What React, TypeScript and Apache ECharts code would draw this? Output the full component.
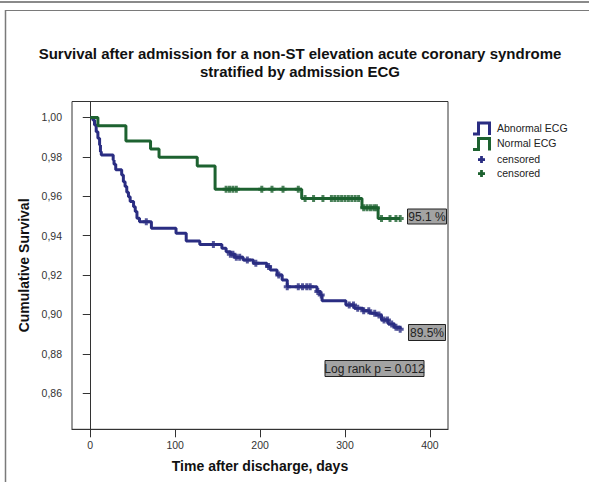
import React, { useEffect, useRef } from "react";
import * as echarts from "echarts";

// ---- data ----
const xTickValues = [0, 100, 200, 300, 400];
const yTickValues = [0.86, 0.88, 0.9, 0.92, 0.94, 0.96, 0.98, 1.0];

// Abnormal ECG: [day, cumulative survival after the event]
const abnormalEvents: [number, number][] = [
  [0, 1.0], [3, 0.9987], [5, 0.9962], [7, 0.9928], [9, 0.9894], [11, 0.986],
  [12, 0.9826], [13, 0.981], [27, 0.9784], [28, 0.9762], [30, 0.9734],
  [37, 0.9708], [39, 0.9674], [41, 0.9649], [43, 0.962], [45, 0.9598],
  [47, 0.9573], [51, 0.9547], [53, 0.9522], [55, 0.9488], [58, 0.9471],
  [72, 0.9437], [101, 0.9412], [113, 0.9373], [129, 0.9355], [155, 0.9336],
  [160, 0.9318], [165, 0.9305], [170, 0.929], [180, 0.9277], [192, 0.926],
  [208, 0.9243], [212, 0.9226], [220, 0.92], [226, 0.9175], [232, 0.914],
  [267, 0.9116], [271, 0.9099], [273, 0.907], [301, 0.9048], [311, 0.9031],
  [321, 0.9019], [329, 0.9006], [337, 0.8997], [343, 0.8972], [351, 0.8952],
  [358, 0.8935], [365, 0.8925],
];
const abnormalCensored = [
  66, 145, 165, 168, 172, 176, 185, 195, 210, 222, 232, 245, 250, 255, 259,
  268, 272, 305, 310, 315, 322, 328, 335, 340, 346, 350, 355, 360, 365,
];

// Normal ECG
const normalEvents: [number, number][] = [
  [0, 1.0], [9, 0.9958], [42, 0.9881], [71, 0.984], [81, 0.9798],
  [126, 0.9754], [147, 0.9635], [249, 0.9588], [320, 0.9542], [339, 0.9487],
  [365, 0.9487],
];
const normalCensored = [
  160, 164, 168, 172, 202, 214, 227, 245, 253, 263, 274, 284, 288, 292, 296,
  300, 304, 308, 312, 316, 322, 326, 330, 334, 337, 343, 353, 360, 365,
];

const seriesNames = ["Abnormal ECG", "Normal ECG"];
const finalLabels = ["89.5%", "95.1 %"];
const logRankText = "Log rank p = 0.012";
const titleLines = [
  "Survival after admission for a non-ST elevation acute coronary syndrome",
  "stratified by admission ECG",
];

const BLUE = "#2a2d82";
const GREEN = "#1d6230";
const PLUS = "path://M2,0H5V2H7V5H5V7H2V5H0V2H2Z";

function survivalAt(events: [number, number][], t: number): number {
  let s = events[0][1];
  for (const [et, es] of events) {
    if (et <= t) s = es;
  }
  return s;
}

export default function App() {
  const ref = useRef<HTMLDivElement>(null);
  useEffect(() => {
    if (!ref.current) return;
    const chart = echarts.init(ref.current, undefined, { renderer: "svg" });
    const font = "Liberation Sans, Arial, sans-serif";
    const legendText = {
      fontFamily: font,
      fontSize: 10.5,
      fill: "#222",
      verticalAlign: "middle" as const,
    };
    const stepIcon = (y: number, color: string) => ({
      type: "polyline",
      shape: {
        points: [
          [473, y + 6],
          [478.5, y + 6],
          [478.5, y - 5],
          [489.5, y - 5],
          [489.5, y + 7],
        ],
      },
      style: { stroke: color, lineWidth: 3, fill: null },
    });
    const plusIcon = (x: number, y: number, color: string) => ({
      type: "group",
      children: [
        { type: "rect", shape: { x: x - 3.5, y: y - 1.3, width: 7, height: 2.8 }, style: { fill: color } },
        { type: "rect", shape: { x: x - 1.4, y: y - 3.5, width: 2.8, height: 7 }, style: { fill: color } },
      ],
    });
    const labelBox = (x: number, y: number, w: number, h: number, text: string) => ({
      type: "group",
      children: [
        {
          type: "rect",
          shape: { x, y, width: w, height: h },
          style: { fill: "#a3a3a3", stroke: "#222", lineWidth: 1 },
        },
        {
          type: "text",
          x: x + w / 2,
          y: y + h / 2 + 0.5,
          style: {
            text,
            fontFamily: font,
            fontSize: 12,
            fill: "#222",
            align: "center",
            verticalAlign: "middle",
          },
        },
      ],
    });

    chart.setOption({
      animation: false,
      backgroundColor: "#ffffff",
      grid: {
        left: 72,
        right: 141,
        top: 101.5,
        bottom: 52.7,
        show: true,
        borderColor: "#333",
        borderWidth: 1,
        containLabel: false,
      },
      xAxis: {
        type: "value",
        min: -21.5,
        max: 421.3,
        name: "Time after discharge, days",
        nameLocation: "middle",
        nameGap: 30,
        nameTextStyle: { fontFamily: font, fontSize: 14, fontWeight: "bold", color: "#111" },
        axisLine: { show: true, lineStyle: { color: "#333" } },
        axisTick: { show: true, customValues: xTickValues, length: 8, inside: false, lineStyle: { color: "#333" } },
        axisLabel: {
          customValues: xTickValues,
          margin: 10,
          fontFamily: font,
          fontSize: 10.5,
          color: "#333",
        },
        splitLine: { show: false },
      },
      yAxis: {
        type: "value",
        min: 0.8417,
        max: 1.0081,
        name: "Cumulative Survival",
        nameLocation: "middle",
        nameGap: 36,
        nameRotate: 90,
        nameTextStyle: { fontFamily: font, fontSize: 14, fontWeight: "bold", color: "#111" },
        axisLine: { show: true, lineStyle: { color: "#333" } },
        axisTick: { show: true, customValues: yTickValues, length: 7.5, inside: false, lineStyle: { color: "#333" } },
        axisLabel: {
          customValues: yTickValues,
          margin: 10,
          fontFamily: font,
          fontSize: 10.5,
          color: "#333",
          formatter: (v: number) => v.toFixed(2).replace(".", ","),
        },
        splitLine: { show: false },
      },
      series: [
        {
          name: seriesNames[0],
          type: "line",
          step: "end",
          data: abnormalEvents,
          showSymbol: false,
          lineStyle: { color: BLUE, width: 3 },
          itemStyle: { color: BLUE },
          z: 3,
        },
        {
          name: seriesNames[1],
          type: "line",
          step: "end",
          data: normalEvents,
          showSymbol: false,
          lineStyle: { color: GREEN, width: 3 },
          itemStyle: { color: GREEN },
          z: 3,
        },
        {
          name: "censored",
          type: "scatter",
          symbol: PLUS,
          symbolSize: 7,
          data: abnormalCensored.map((t) => [t, survivalAt(abnormalEvents, t)]),
          itemStyle: { color: BLUE },
          z: 4,
        },
        {
          name: "censored ",
          type: "scatter",
          symbol: PLUS,
          symbolSize: 7,
          data: normalCensored.map((t) => [t, survivalAt(normalEvents, t)]),
          itemStyle: { color: GREEN },
          z: 4,
        },
      ],
      graphic: [
        // page frame lines
        { type: "line", shape: { x1: 0, y1: 2, x2: 589, y2: 2 }, style: { stroke: "#8a8a8a", lineWidth: 2 } },
        { type: "line", shape: { x1: 5, y1: 10.5, x2: 589, y2: 10.5 }, style: { stroke: "#7a7a7a", lineWidth: 1 } },
        { type: "line", shape: { x1: 5.5, y1: 10, x2: 5.5, y2: 482 }, style: { stroke: "#7a7a7a", lineWidth: 1.5 } },
        // title
        {
          type: "text",
          x: 300,
          y: 53,
          style: {
            text: titleLines[0],
            fontFamily: font,
            fontSize: 15,
            fontWeight: "bold",
            fill: "#111",
            align: "center",
            verticalAlign: "middle",
          },
        },
        {
          type: "text",
          x: 300,
          y: 71,
          style: {
            text: titleLines[1],
            fontFamily: font,
            fontSize: 15,
            fontWeight: "bold",
            fill: "#111",
            align: "center",
            verticalAlign: "middle",
          },
        },
        // legend
        stepIcon(128, BLUE),
        { type: "text", x: 497, y: 127.5, style: { ...legendText, text: seriesNames[0] } },
        stepIcon(143.5, GREEN),
        { type: "text", x: 497, y: 143, style: { ...legendText, text: seriesNames[1] } },
        plusIcon(481.5, 159.5, BLUE),
        { type: "text", x: 497, y: 158.5, style: { ...legendText, text: "censored" } },
        plusIcon(481.5, 173.5, GREEN),
        { type: "text", x: 497, y: 173, style: { ...legendText, text: "censored" } },
        // annotations
        labelBox(407.5, 209, 39, 15, finalLabels[1]),
        labelBox(408.5, 324.5, 37, 16, finalLabels[0]),
        labelBox(325, 360.5, 99, 16, logRankText),
      ],
    });
    return () => chart.dispose();
  }, []);
  return (
    <div
      ref={ref}
      style={{ position: "fixed", left: 0, top: 0, width: 589, height: 482, background: "#fff" }}
    />
  );
}
